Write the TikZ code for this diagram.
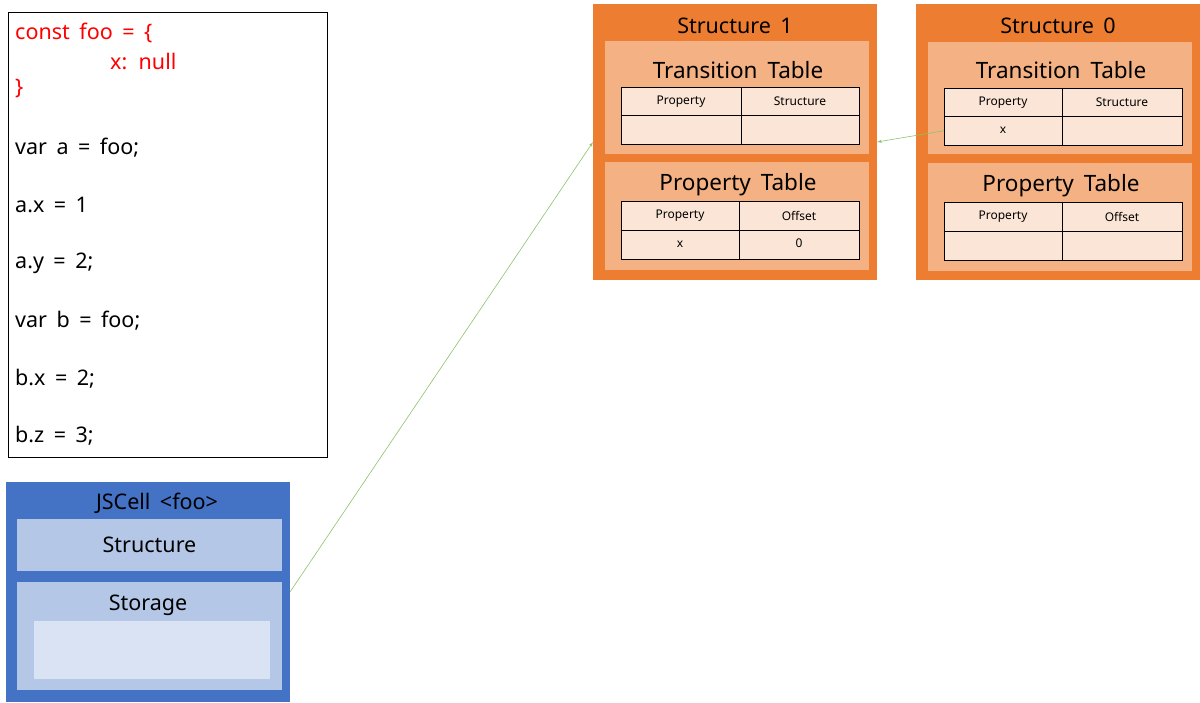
\documentclass[tikz,border=0pt]{standalone}
\usepackage{fontspec}
\setmainfont{Noto Sans}[WordSpace=1.7]
\usetikzlibrary{arrows,positioning}
\definecolor{strouter}{HTML}{ED7D31}
\definecolor{strinner}{HTML}{F4B183}
\definecolor{cellfill}{HTML}{FBE5D6}
\definecolor{cellouter}{HTML}{4472C4}
\definecolor{cellinner}{HTML}{B4C7E7}
\definecolor{celllight}{HTML}{DAE3F3}
\definecolor{linkgreen}{HTML}{8DC26B}
\definecolor{codered}{HTML}{FF0000}

\begin{document}
\begin{tikzpicture}[
    x=1pt,
    y=-1pt,
    >=latex',
    box/.style={
		rectangle,
		anchor=north west,
		inner sep=0pt,
		outer sep=0pt
	},
	structure/.style={
		box,
		fill=strouter,
		minimum width=284pt,
		minimum height=276pt
	},
	table/.style={
		box,
		fill=strinner,
		minimum width=264pt
	},
	cell/.style={
		rectangle,
		draw=black,
		line width=0.8pt,
		fill=cellfill,
		inner sep=0pt,
		outer sep=0pt,
		minimum width=119pt,
		minimum height=28.5pt,
		font=\fontsize{12}{14}\selectfont
	},
	title/.style={
		font=\fontsize{21.5}{25}\selectfont
	},
	bigtitle/.style={
		font=\fontsize{22.5}{26}\selectfont
	},
	code/.style={
		anchor=west,
		inner sep=0pt,
		font=\fontsize{21.5}{25}\selectfont
	},
	link/.style={
		->,
		draw=linkgreen,
		line width=0.6pt
	}
  ]

\useasboundingbox (0,0) rectangle (1200,702);

% // The source
\node [box, draw=black, line width=0.8pt, minimum width=319pt, minimum height=445pt] (source) at (8,12) {};
\node [code, text=codered] (line1) at (15,33) {const foo = \{};
\node [code, text=codered] (line2) at (110,61) {x: null};
\node [code, text=codered] (line3) at (15,89) {\}};
\node [code] (line4) at (15,148) {var a = foo;};
\node [code] (line5) at (15,205) {a.x = 1};
\node [code] (line6) at (15,263) {a.y = 2;};
\node [code] (line7) at (15,321) {var b = foo;};
\node [code] (line8) at (15,379) {b.x = 2;};
\node [code] (line9) at (15,436) {b.z = 3;};

% // The object
\node [box, fill=cellouter, minimum width=284pt, minimum height=220pt] (jscell) at (6,482) {};
\node [title] (jscelltitle) at (157,503) {JSCell <foo>};
\node [box, fill=cellinner, minimum width=265pt, minimum height=52pt, title] (jsstruct) at (17,519) {\raisebox{-2pt}{Structure}};
\node [box, fill=cellinner, minimum width=265pt, minimum height=108pt] (storage) at (17,582) {};
\node [title] (storagetitle) at (148,605) {Storage};
\node [box, fill=celllight, minimum width=236pt, minimum height=58pt] (slots) at (34,621) {};

% // Structure 1
\node [structure] (s1) at (593,4) {};
\node [title] (s1title) at (735,26) {Structure 1};
\node [table, minimum height=113pt] (s1trans) at (605,41) {};
\node [bigtitle] (s1transtitle) at (738,70) {Transition Table};
\node [cell, anchor=north west, minimum width=120pt] (s1ta) at (621,87) {Property};
\node [cell, right=0pt of s1ta, minimum width=118pt] (s1tb) {Structure};
\node [cell, below=0pt of s1ta, minimum width=120pt] (s1tc) {};
\node [cell, below=0pt of s1tb, minimum width=118pt] (s1td) {};
\node [table, minimum height=108pt] (s1prop) at (605,162) {};
\node [bigtitle] (s1proptitle) at (738,185) {Property Table};
\node [cell, anchor=north west, minimum width=118pt, minimum height=29pt] (s1pa) at (621,201) {Property};
\node [cell, right=0pt of s1pa, minimum width=120pt, minimum height=29pt] (s1pb) {Offset};
\node [cell, below=0pt of s1pa, minimum width=118pt, minimum height=29pt] (s1pc) {x};
\node [cell, below=0pt of s1pb, minimum width=120pt, minimum height=29pt] (s1pd) {\raisebox{3pt}{0}};

% // Structure 0
\node [structure] (s0) at (916,4) {};
\node [title] (s0title) at (1058,26) {Structure 0};
\node [table, minimum height=112pt] (s0trans) at (928,42) {};
\node [bigtitle] (s0transtitle) at (1061,70) {Transition Table};
\node [cell, anchor=north west, minimum width=118pt] (s0ta) at (944,88) {Property};
\node [cell, right=0pt of s0ta, minimum width=120pt] (s0tb) {Structure};
\node [cell, below=0pt of s0ta, minimum width=118pt] (s0tc) {x};
\node [cell, below=0pt of s0tb, minimum width=120pt] (s0td) {};
\node [table, minimum height=108pt] (s0prop) at (928,163) {};
\node [bigtitle] (s0proptitle) at (1061,186) {Property Table};
\node [cell, anchor=north west, minimum width=118pt, minimum height=29pt] (s0pa) at (944,202) {Property};
\node [cell, right=0pt of s0pa, minimum width=120pt, minimum height=29pt] (s0pb) {Offset};
\node [cell, below=0pt of s0pa, minimum width=118pt, minimum height=29pt] (s0pc) {};
\node [cell, below=0pt of s0pb, minimum width=120pt, minimum height=29pt] (s0pd) {};

% // The links
\draw [link] (jscell.east) -- (s1.west);
\draw [link] (s0tc.west) -- (s1.east);

\end{tikzpicture}
\end{document}
